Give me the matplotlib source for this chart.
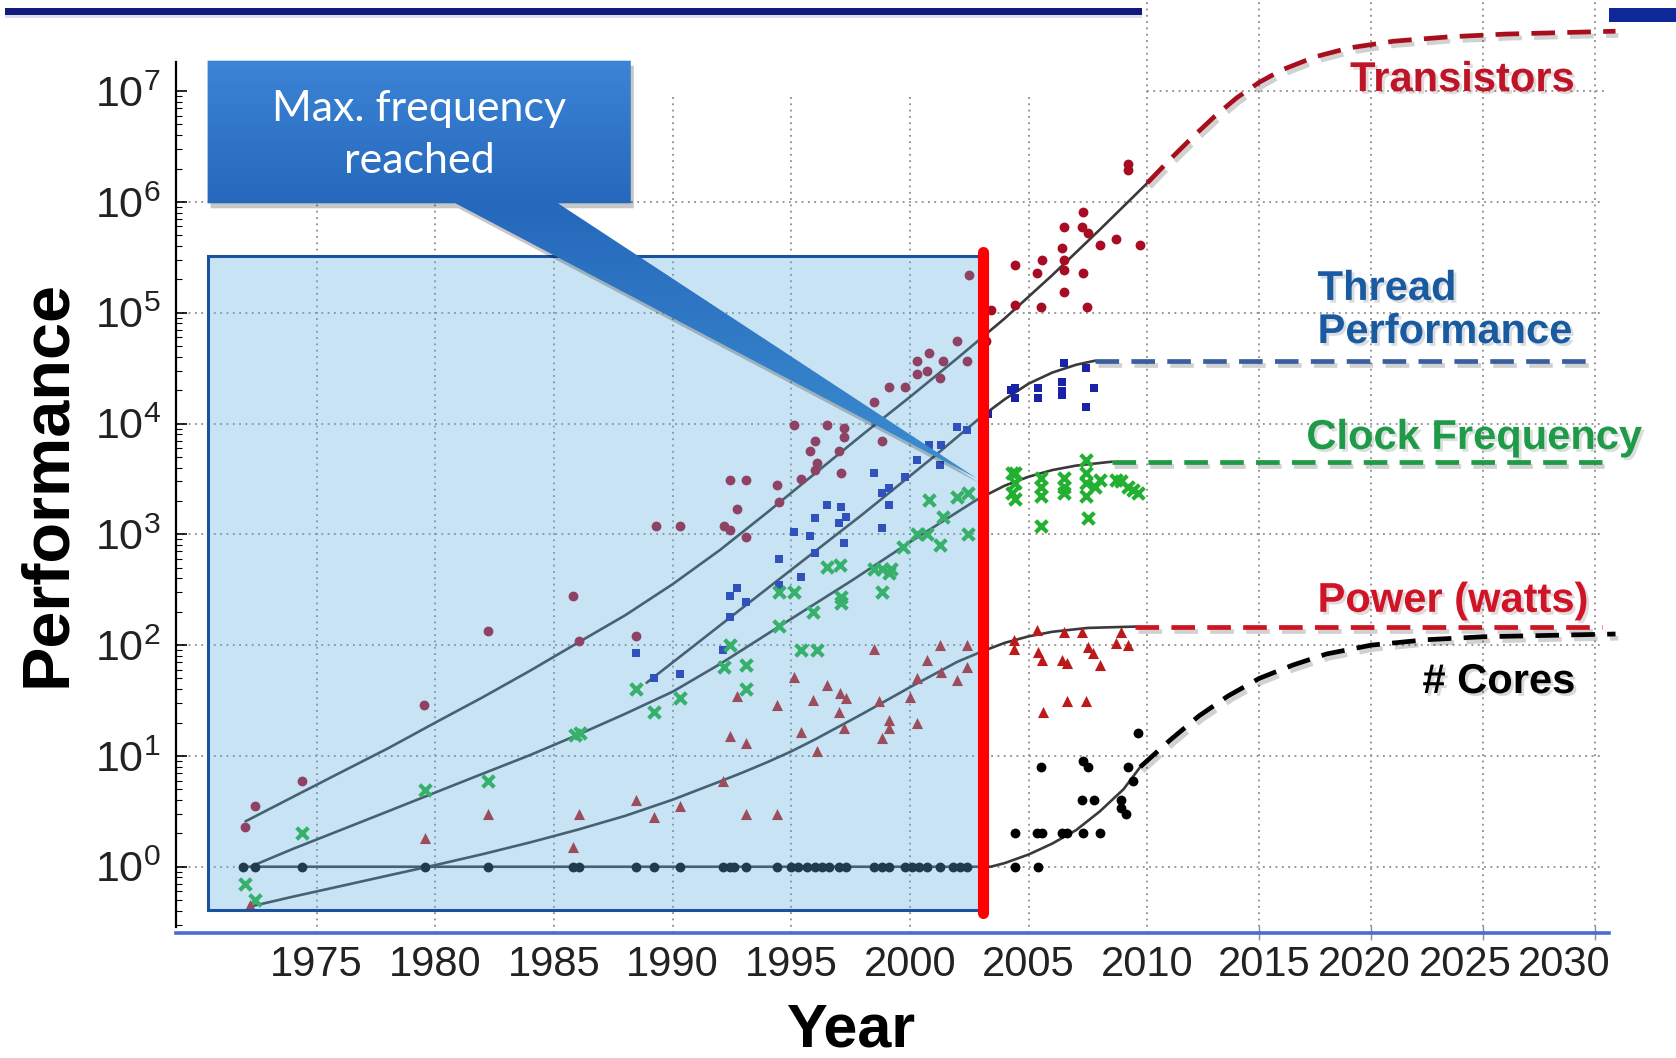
import numpy as np
import matplotlib.pyplot as plt
import matplotlib.patheffects as pe
from matplotlib.patches import Rectangle, Polygon
from matplotlib.ticker import FixedLocator, NullFormatter

plt.rcParams['font.family'] = ['Liberation Sans', 'DejaVu Sans']
plt.rcParams['mathtext.fontset'] = 'custom'
plt.rcParams['mathtext.rm'] = 'Liberation Sans'
plt.rcParams['mathtext.it'] = 'Liberation Sans'

# transistors (thousands)
trans_year = [1971.99, 1972.4, 1974.4, 1979.5, 1982.2, 1985.8, 1986.06, 1988.45, 1989.3, 1990.3,
              1992.15, 1992.4, 1992.4, 1992.7, 1993.07, 1993.1, 1994.4, 1994.5, 1995.1, 1995.4,
              1995.8, 1996.0, 1996.0, 1996.1, 1996.5, 1997.0, 1997.1, 1997.2, 1997.2, 1998.5,
              1998.8, 1999.1, 1999.8, 2000.3, 2000.3, 2000.7, 2000.8, 2001.26, 2001.4, 2001.96,
              2002.4, 2002.5, 2003.2, 2003.4, 2004.44, 2004.44, 2005.35, 2005.5, 2005.56, 2006.4,
              2006.5, 2006.5, 2006.5, 2006.5, 2007.25, 2007.3, 2007.3, 2007.46, 2007.5, 2008.0,
              2008.7, 2009.2, 2009.2, 2009.7]
trans_val = [2.3, 3.5, 6, 29, 134, 275, 108, 120, 1200, 1200,
             1200, 1100, 3100, 1700, 950, 3100, 2800, 1950, 9700, 3150,
             5600, 6900, 3800, 4400, 9700, 5600, 3550, 9100, 7600, 15500,
             6900, 21500, 21500, 37000, 28000, 29500, 43000, 25500, 37000, 55000,
             37000, 219000, 55000, 105000, 270000, 117000, 227000, 113000, 300000, 380000,
             590000, 300000, 245000, 155000, 590000, 810000, 230000, 113000, 520000, 410000,
             460000, 2200000, 1950000, 410000]

# single-thread performance
perf_year = [1988.45, 1989.2, 1990.3, 1992.1, 1992.4, 1992.4, 1992.7, 1993.07, 1994.5, 1994.5,
             1995.4, 1995.1, 1995.8, 1996.0, 1996.0, 1996.5, 1997.0, 1997.1, 1997.2, 1997.3,
             1998.5, 1998.8, 1998.8, 1999.1, 1999.1, 1999.8, 2000.3, 2000.8, 2001.26, 2001.3,
             2001.96, 2002.4, 2003.3, 2004.26, 2004.44, 2004.44, 2005.4, 2005.4, 2006.4, 2006.4,
             2006.4, 2006.5, 2007.4, 2007.4, 2007.74]
perf_val = [85, 50, 55, 91, 180, 275, 325, 246, 600, 348,
            415, 1050, 960, 675, 1390, 1820, 1260, 1780, 830, 1440,
            3600, 1130, 2340, 2620, 1820, 3300, 4680, 6400, 4240, 6400,
            9300, 8700, 12300, 20000, 21000, 17000, 21000, 17000, 23500, 19500,
            18200, 35000, 32000, 14000, 21000]

# clock frequency (MHz)
freq_year = [1971.96, 1972.4, 1974.4, 1979.55, 1982.2, 1985.9, 1986.1, 1988.45, 1989.2, 1990.3,
             1992.15, 1992.4, 1993.07, 1993.1, 1994.5, 1994.5, 1995.1, 1995.4, 1996.1, 1995.9,
             1996.5, 1997.06, 1997.1, 1997.1, 1998.5, 1998.8, 1998.8, 1999.1, 1999.2, 1999.7,
             2000.3, 2000.7, 2001.26, 2000.8, 2001.96, 2001.4, 2002.45, 2002.45, 2004.3, 2004.3,
             2004.44, 2004.44, 2004.44, 2005.5, 2005.5, 2005.5, 2005.5, 2006.5, 2006.5, 2006.5,
             2007.4, 2007.4, 2007.4, 2007.4, 2007.5, 2008.0, 2007.8, 2008.7, 2008.9, 2009.2,
             2009.4, 2009.6]
freq_val = [0.7, 0.5, 2, 4.9, 6, 15.5, 16, 40, 25, 33,
            63, 100, 66, 40, 150, 300, 300, 90, 90, 200,
            510, 525, 270, 240, 490, 490, 300, 445, 490, 775,
            1000, 1000, 800, 2040, 2180, 1440, 1000, 2340, 3550, 2340,
            3600, 2900, 2100, 3200, 2700, 2200, 1200, 3200, 2700, 2350,
            4700, 3600, 2900, 2200, 1390, 3100, 2700, 3100, 3000, 2700,
            2500, 2350]

# typical power (watts)
power_year = [1972.2, 1979.55, 1982.2, 1986.06, 1985.8, 1988.45, 1989.2, 1990.3, 1992.1, 1992.4,
              1993.1, 1992.7, 1993.1, 1994.4, 1994.4, 1995.1, 1995.4, 1995.9, 1996.1, 1996.5,
              1997.06, 1997.3, 1997.0, 1997.2, 1998.5, 1998.7, 1999.1, 1999.1, 1998.8, 2000.0,
              2000.3, 2000.3, 2000.7, 2001.26, 2001.3, 2001.96, 2002.4, 2002.4, 2004.4, 2004.4,
              2005.35, 2005.4, 2005.55, 2006.5, 2006.4, 2006.6, 2007.25, 2007.5, 2007.7, 2008.0,
              2008.9, 2008.7, 2009.2, 2005.6, 2006.6, 2007.4]
power_val = [0.45, 1.8, 3, 3, 1.5, 4, 2.8, 3.5, 6, 15,
             13, 35, 3, 3, 29, 52, 16.6, 32, 11, 44,
             37, 33, 25, 18, 93, 31, 21, 18, 14.4, 34,
             20, 50, 73, 100, 57, 48, 100, 64, 112, 93,
             137, 87, 73, 132, 73, 69, 130, 97, 85, 66,
             132, 105, 100, 25, 31, 31]

# number of logical cores
core_year = [1971.9, 1972.4, 1974.4, 1979.55, 1982.2, 1985.8, 1986.06, 1988.45, 1989.2, 1990.3,
             1992.1, 1992.4, 1992.6, 1993.07, 1994.4, 1995.0, 1995.3, 1995.65, 1996.0, 1996.3,
             1996.6, 1997.0, 1997.3, 1998.5, 1998.8, 1999.1, 1999.8, 2000.1, 2000.4, 2000.7,
             2001.26, 2001.8, 2002.1, 2002.4, 2004.44, 2005.4, 2004.44, 2005.35, 2005.56, 2006.4,
             2006.6, 2007.3, 2008.0, 2007.25, 2007.74, 2008.9, 2008.9, 2009.1, 2005.5, 2007.3,
             2007.5, 2009.2, 2009.4, 2009.6]
core_val = [1] * 36 + [2, 2, 2, 2, 2, 2, 2, 4, 4, 4, 3.4, 3, 8, 9, 8, 8, 6, 16]

# fitted trends (solid) and projections (dashed)
trans_fit_year = [1972, 1974, 1976, 1978, 1980, 1982, 1984, 1986, 1988, 1990,
                  1992, 1994, 1996, 1998, 2000, 2002, 2004, 2006, 2008, 2010]
trans_fit_val = [2.57, 4.27, 7.08, 11.7, 20, 33.9, 58.9, 105, 186, 355,
                 724, 1585, 3548, 7943, 17378, 38905, 89125, 218776, 562341, 1.48e6]
trans_proj_year = [2010, 2011, 2012, 2013, 2014, 2015, 2016, 2017.5, 2019, 2021, 2023.5, 2026,
                   2030.9]
trans_proj_val = [1.48e6, 2.40e6, 3.80e6, 5.89e6, 8.71e6, 1.20e7, 1.55e7, 2.04e7, 2.45e7,
                  2.82e7, 3.09e7, 3.27e7, 3.47e7]

perf_fit_year = [1988.9, 1992, 1995, 1998, 2001, 2002, 2003, 2004, 2005, 2006, 2007, 2007.8]
perf_fit_val = [45.7, 151, 479, 1514, 5012, 7586, 11482, 16596, 22909, 28840, 33884, 36900]
perf_proj_year = [2007.8, 2029.8]
perf_proj_val = [36900, 36900]

freq_fit_year = [1972.2, 1974, 1976, 1978, 1980, 1982, 1984, 1986, 1988, 1990, 1992, 1994.5,
                 1997.6, 2000, 2002.8, 2004, 2005, 2006, 2007, 2008.5]
freq_fit_val = [1.0, 1.45, 2.14, 3.16, 4.68, 6.92, 10.2, 15.5, 24.0, 38.0, 67.6, 148, 389, 851,
                2042, 2754, 3311, 3802, 4169, 4520]
freq_proj_year = [2008.5, 2030.3]
freq_proj_val = [4520, 4520]

power_fit_year = [1972.2, 1974, 1976, 1978, 1980, 1982, 1984, 1986, 1988, 1990, 1992, 1993,
                  1994, 1995, 1996, 1998, 2000, 2002, 2003, 2004, 2005, 2006, 2007.5, 2009.5]
power_fit_val = [0.437, 0.537, 0.668, 0.832, 1.035, 1.30, 1.66, 2.16, 2.88, 4.03, 5.89, 7.16,
                 8.81, 11.0, 14.1, 24.0, 41.7, 70.8, 87.1, 105, 120, 132, 143, 147]
power_proj_year = [2009.5, 2030.3]
power_proj_val = [147, 147]

core_fit_year = [1972, 2003.4, 2004, 2005, 2006, 2007, 2008, 2009, 2009.7]
core_fit_val = [1, 1, 1.08, 1.29, 1.62, 2.14, 3.16, 5.01, 7.94]
core_proj_year = [2009.7, 2011, 2012.3, 2013.6, 2015, 2016.5, 2018, 2020, 2022.5, 2025, 2030.9]
core_proj_val = [7.94, 13.8, 22.9, 34.7, 50.1, 66.1, 83.2, 100, 112, 119, 126]

grid_years = list(range(1975, 2031, 5))
label_years = [1975, 1980, 1985, 1990, 1995, 2000, 2005, 2010, 2015.2, 2019.7, 2024.2, 2028.6]
decades = list(range(0, 8))

# years after 2010 are drawn slightly compressed
K = 0.944


def fwd(x):
    x = np.asarray(x, dtype=float)
    return np.where(x <= 2010, x, 2010 + (x - 2010) * K)


def inv(x):
    x = np.asarray(x, dtype=float)
    return np.where(x <= 2010, x, 2010 + (x - 2010) / K)


W, H = 1676, 1058
fig = plt.figure(figsize=(W / 100, H / 100), dpi=100)
fig.patch.set_facecolor('white')
ax = fig.add_axes([176 / W, 125 / H, 1500 / W, 933 / H])
ax.set_xscale('function', functions=(fwd, inv))
ax.set_yscale('log')
XMIN, XMAX = 1969.07, 2033.6
YMIN, YMAX = 10 ** -0.598, 10 ** 7.822
ax.set_xlim(XMIN, XMAX)
ax.set_ylim(YMIN, YMAX)
ax.patch.set_visible(False)

for s in ['top', 'right']:
    ax.spines[s].set_visible(False)
ax.spines['left'].set_bounds(10 ** -0.54, 10 ** 7.265)
ax.spines['left'].set_linewidth(1.6)
ax.spines['bottom'].set_bounds(XMIN, 2030.63)
ax.spines['bottom'].set_color('#4a6cd4')
ax.spines['bottom'].set_linewidth(2.6)

# y ticks
ax.yaxis.set_major_locator(FixedLocator([10 ** e for e in decades]))
ax.set_yticklabels([r'$10^{%d}$' % e for e in decades], fontsize=31, color='#222222')
minor = [m * 10 ** e for e in range(-1, 8) for m in range(2, 10)
         if 10 ** -0.54 <= m * 10 ** e <= 10 ** 7.26]
ax.yaxis.set_minor_locator(FixedLocator(minor))
ax.yaxis.set_minor_formatter(NullFormatter())
ax.tick_params(axis='y', which='major', direction='in', length=8, width=1.2, pad=11)
ax.tick_params(axis='y', which='minor', direction='in', length=4, width=0.8)

# x ticks: labels and grid marks kept separate
ax.xaxis.set_major_locator(FixedLocator(label_years))
ax.set_xticklabels([str(y) for y in grid_years], fontsize=30, color='#222222')
ax.xaxis.set_minor_locator(FixedLocator(grid_years))
ax.xaxis.set_minor_formatter(NullFormatter())
ax.tick_params(axis='x', which='major', length=0, pad=9)
ax.tick_params(axis='x', which='minor', direction='inout', length=10, width=1, color='#8a8a8a')

# dotted grid
gstyle = dict(ls=(0, (1, 2.5)), color='#8c8c8c', lw=1.3, zorder=1)
for yr in grid_years:
    top = 10 ** 6.95 if yr < 2010 else YMAX
    ax.plot([yr, yr], [YMIN, top], **gstyle)
for e in decades:
    left = XMIN if e < 7 else 2010
    ax.plot([left, 2030.4], [10 ** e, 10 ** e], **gstyle)

# scatter data
ax.scatter(trans_year, trans_val, s=50, marker='o', color='#a80c24', zorder=3, lw=0)
ax.scatter(perf_year, perf_val, s=36, marker='s', color='#1a22a8', zorder=3, lw=0)
ax.scatter(freq_year, freq_val, s=70, marker='x', color='#22b030', zorder=3, lw=3)
ax.scatter(power_year, power_val, s=64, marker='^', color='#bc1a1a', zorder=3, lw=0)
ax.scatter(core_year, core_val, s=50, marker='o', color='black', zorder=3, lw=0)

# fitted trends
for xs, ys in [(trans_fit_year, trans_fit_val), (perf_fit_year, perf_fit_val),
               (freq_fit_year, freq_fit_val), (power_fit_year, power_fit_val),
               (core_fit_year, core_fit_val)]:
    ax.plot(xs, ys, color='#3a3a3a', lw=1.9, zorder=2.5, solid_capstyle='round',
            solid_joinstyle='round')

# dashed projections with a soft shadow
shadow = [pe.SimpleLineShadow(offset=(2, -3), alpha=0.18, shadow_color='black'), pe.Normal()]
for xs, ys, c in [(trans_proj_year, trans_proj_val, '#a80f1e'),
                  (perf_proj_year, perf_proj_val, '#3b5f9e'),
                  (freq_proj_year, freq_proj_val, '#1f9a45'),
                  (power_proj_year, power_proj_val, '#cc1422'),
                  (core_proj_year, core_proj_val, 'black')]:
    ax.plot(xs, ys, color=c, lw=3.4, dashes=(5, 2.6), zorder=3, path_effects=shadow,
            clip_on=False)

# pre-2003 shaded region and the frequency wall
ax.add_patch(Rectangle((1970.42, 10 ** -0.39), 2003.07 - 1970.42, 10 ** 5.51 - 10 ** -0.39,
                       facecolor=(95 / 255, 176 / 255, 224 / 255, 0.34),
                       edgecolor='#1a52a0', lw=2.2, zorder=4))
ax.plot([2003.07, 2003.07], [10 ** -0.42, 10 ** 5.55], color='#ff0000', lw=8,
        solid_capstyle='round', zorder=5)

# series labels
tshadow = [pe.SimplePatchShadow(offset=(2, -2), alpha=0.15), pe.Normal()]
lab = dict(family=['Liberation Sans', 'DejaVu Sans'], weight='bold', fontsize=30, zorder=6,
           path_effects=tshadow)
ax.text(2029.1, 10 ** 7.10, 'Transistors', color='#be1428', ha='right', va='center', **lab)
ax.text(2017.6, 10 ** 5.02, 'Thread\nPerformance', color='#1a5aa0', ha='left', va='center',
        linespacing=1.1, **lab)
ax.text(2017.1, 10 ** 3.87, 'Clock Frequency', color='#1f9a48', ha='left', va='center', **lab)
ax.text(2017.6, 10 ** 2.40, 'Power (watts)', color='#d01428', ha='left', va='center', **lab)
ax.text(2029.1, 10 ** 1.667, '# Cores', color='black', ha='right', va='center', **lab)

fig.text(48 / W, 1 - 484 / H, 'Performance', rotation=90, ha='center', va='center',
         family=['Liberation Sans', 'DejaVu Sans'], weight='bold', fontsize=48)
fig.text(852 / W, 1 - 1031 / H, 'Year', ha='center', va='center',
         family=['Liberation Sans', 'DejaVu Sans'], weight='bold', fontsize=44)

# overlay in pixel coordinates for the slide decorations and callout
ov = fig.add_axes([0, 0, 1, 1])
ov.patch.set_visible(False)
ov.axis('off')

ov.add_patch(Rectangle((4.5, 8.3), 1137.5, 6.7, color='#101b7c', lw=0))
ov.add_patch(Rectangle((4.5, 15), 1137.5, 3, color='#b8c2e6', alpha=0.5, lw=0))
ov.add_patch(Rectangle((1608.7, 8.3), 67.3, 13.4, color='#0f2898', lw=0))

callout = [(207.6, 60.7), (630.8, 60.7), (630.8, 203.3), (558, 203.3), (976.7, 478.3),
           (455.4, 203.3), (207.6, 203.3)]
ov.add_patch(Polygon([(x + 3, y + 5) for x, y in callout], closed=True, color='black',
                     alpha=0.22, lw=0))
shape = Polygon(callout, closed=True, facecolor='none', edgecolor='none')
ov.add_patch(shape)
ys = np.linspace(60, 479, 420)
top_c, mid_c, tip_c = np.array([60, 132, 214]), np.array([38, 104, 188]), np.array([60, 142, 208])
t1 = np.clip((ys - 60) / 143, 0, 1)[:, None]
t2 = np.clip((ys - 203) / 276, 0, 1)[:, None]
col = np.where(ys[:, None] <= 203, top_c + (mid_c - top_c) * t1, mid_c + (tip_c - mid_c) * t2)
grad = np.repeat((col / 255)[:, None, :], 2, axis=1)
im = ov.imshow(grad, extent=(207, 977, 479, 60), origin='upper', aspect='auto', zorder=2)
im.set_clip_path(shape)
ov.text(419.5, 135, 'Max. frequency\nreached', color='white', ha='center', va='center',
        fontsize=31, family=['Lato', 'DejaVu Sans'], linespacing=1.45, zorder=3)

ov.set_xlim(0, W)
ov.set_ylim(H, 0)

fig.savefig('out.png', dpi=100)
